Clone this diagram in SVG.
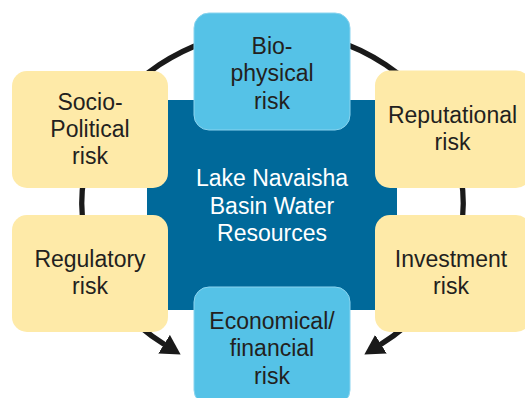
<svg xmlns="http://www.w3.org/2000/svg" width="525" height="398" viewBox="0 0 525 398">
  <style>
    .lbl { font-family: "Liberation Sans", Arial, sans-serif; font-size: 23px; fill: #231f20; text-anchor: middle; }
    .core-lbl { fill: #ffffff; }
    .risk { fill: #feeaa8; }
    .key { fill: #55c2e7; stroke: #8ad4ef; stroke-width: 1; }
    .ring { fill: none; stroke: #1a1a1a; stroke-width: 5.5; }
  </style>
  <defs>
    <marker id="head" markerUnits="userSpaceOnUse" viewBox="0 0 20 22" refX="0.5" refY="11" markerWidth="20" markerHeight="22" orient="auto">
      <path d="M0,0 L19.5,11 L0,22 Z" fill="#1a1a1a"/>
    </marker>
  </defs>
  <rect width="525" height="398" fill="#ffffff"/>

  <!-- ring connectors flowing down both sides into the financial-risk node -->
  <g id="connectors">
    <path class="ring" d="M272.5,31 A191.5,172 0 0 0 164.5,344.5" marker-end="url(#head)"/>
    <path class="ring" d="M272.5,31 A191.5,172 0 0 1 380.5,344.5" marker-end="url(#head)"/>
  </g>

  <g id="core">
    <rect x="147" y="100" width="250" height="210" fill="#00699a"/>
    <text class="lbl core-lbl" x="272" y="186">Lake Navaisha</text>
    <text class="lbl core-lbl" x="272" y="213.5">Basin Water</text>
    <text class="lbl core-lbl" x="272" y="241">Resources</text>
  </g>

  <g id="bio-physical">
    <rect class="key" x="194" y="13" width="156" height="117" rx="15"/>
    <text class="lbl" x="272" y="53.5">Bio-</text>
    <text class="lbl" x="272" y="81">physical</text>
    <text class="lbl" x="272" y="108.5">risk</text>
  </g>

  <g id="socio-political">
    <rect class="risk" x="12" y="71" width="156" height="117" rx="15"/>
    <text class="lbl" x="90" y="110">Socio-</text>
    <text class="lbl" x="90" y="137">Political</text>
    <text class="lbl" x="90" y="164">risk</text>
  </g>

  <g id="reputational">
    <rect class="risk" x="375" y="70.5" width="156" height="117.5" rx="15"/>
    <text class="lbl" x="452.5" y="123">Reputational</text>
    <text class="lbl" x="452.5" y="149.5">risk</text>
  </g>

  <g id="regulatory">
    <rect class="risk" x="12" y="215" width="156" height="117" rx="15"/>
    <text class="lbl" x="90" y="267">Regulatory</text>
    <text class="lbl" x="90" y="293.5">risk</text>
  </g>

  <g id="investment">
    <rect class="risk" x="375" y="215" width="156" height="117" rx="15"/>
    <text class="lbl" x="451" y="267">Investment</text>
    <text class="lbl" x="451" y="293.5">risk</text>
  </g>

  <g id="economical">
    <rect class="key" x="194" y="287" width="156" height="118" rx="15"/>
    <text class="lbl" x="272" y="328.5">Economical/</text>
    <text class="lbl" x="272" y="356">financial</text>
    <text class="lbl" x="272" y="383.5">risk</text>
  </g>
</svg>
